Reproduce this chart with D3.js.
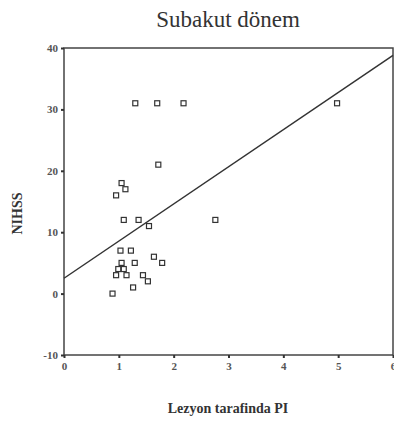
<!DOCTYPE html>
<html>
<head>
<meta charset="utf-8">
<script src="https://cdn.jsdelivr.net/npm/d3@7"></script>
<style>
body { margin: 0; background: #fff; }
</style>
</head>
<body>
<script>
// data
var piValues = [1.30, 1.70, 2.18, 4.98, 1.72, 1.05, 1.12, 0.95, 1.09, 1.36, 1.55, 2.76,
	1.03, 1.22, 1.64, 1.05, 1.29, 1.79, 0.99, 1.09, 0.95, 1.14, 1.44, 1.53, 1.26, 0.885];
var nihssValues = [31, 31, 31, 31, 21, 18, 17, 16, 12, 12, 11, 12,
	7, 7, 6, 5, 5, 5, 4, 4, 3, 3, 3, 2, 1, 0];
var xTicks = [0, 1, 2, 3, 4, 5, 6];
var yTicks = [-10, 0, 10, 20, 30, 40];
// fit line ends
var fitX = [0, 6];
var fitY = [2.5, 38.8];

var serif = "'Liberation Serif', 'Times New Roman', Times, 'DejaVu Serif', serif";
var width = 394, height = 421;
var margin = {left: 64, top: 48, right: 1, bottom: 66};

var svg = d3.select("body").append("svg")
	.attr("width", width).attr("height", height);

var x = d3.scaleLinear().domain([0, 6]).range([margin.left, width - margin.right]);
var y = d3.scaleLinear().domain([-10, 40]).range([height - margin.bottom, margin.top]);

// frame
svg.append("rect")
	.attr("x", x(0)).attr("y", y(40))
	.attr("width", x(6) - x(0)).attr("height", y(-10) - y(40))
	.attr("fill", "none").attr("stroke", "#444").attr("stroke-width", 1.5);

var fmt = function(d) { return String(d); };
var xAxis = svg.append("g")
	.attr("transform", "translate(0," + y(-10) + ")")
	.call(d3.axisBottom(x).tickValues(xTicks).tickFormat(fmt).tickSize(3).tickPadding(4));
var yAxis = svg.append("g")
	.attr("transform", "translate(" + x(0) + ",0)")
	.call(d3.axisLeft(y).tickValues(yTicks).tickFormat(fmt).tickSize(3).tickPadding(3));

[xAxis, yAxis].forEach(function(a) {
	a.attr("font-family", null);
	a.select(".domain").remove();
	a.selectAll(".tick line").attr("stroke", "#333").attr("stroke-width", 2);
	a.selectAll(".tick text")
		.style("font-family", serif)
		.style("font-size", "11px")
		.style("font-weight", "bold")
		.attr("fill", "#555");
});

// regression line
svg.append("line")
	.attr("x1", x(fitX[0])).attr("y1", y(fitY[0]))
	.attr("x2", x(fitX[1])).attr("y2", y(fitY[1]))
	.attr("stroke", "#333").attr("stroke-width", 1.5);

// points
var pts = piValues.map(function(v, i) { return {pi: v, nihss: nihssValues[i]}; });
svg.selectAll(".pt").data(pts).enter().append("rect")
	.attr("class", "pt")
	.attr("x", function(d) { return x(d.pi) - 2.5; })
	.attr("y", function(d) { return y(d.nihss) - 2.5; })
	.attr("width", 5).attr("height", 5)
	.attr("fill", "none").attr("stroke", "#333").attr("stroke-width", 1.2);

// title and axis labels
svg.append("text")
	.attr("x", 228).attr("y", 27)
	.attr("text-anchor", "middle")
	.attr("fill", "#333")
	.style("font-family", serif)
	.style("font-size", "23px")
	.text("Subakut dönem");

svg.append("text")
	.attr("x", 228).attr("y", 413)
	.attr("text-anchor", "middle")
	.attr("fill", "#333")
	.style("font-family", serif)
	.style("font-size", "14px")
	.style("font-weight", "bold")
	.text("Lezyon tarafinda PI");

svg.append("text")
	.attr("transform", "translate(22," + ((y(40) + y(-10)) / 2 + 12) + ") rotate(-90)")
	.attr("text-anchor", "middle")
	.attr("fill", "#333")
	.style("font-family", serif)
	.style("font-size", "14px")
	.style("font-weight", "bold")
	.text("NIHSS");
</script>
</body>
</html>
